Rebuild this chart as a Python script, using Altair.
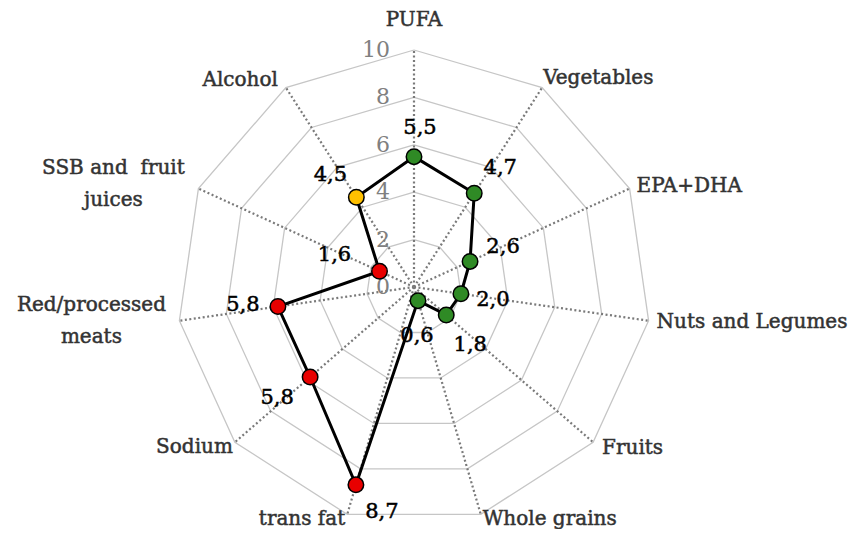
import altair as alt
import pandas as pd
import numpy as np

# ---- data ----
categories = ["PUFA", "Vegetables", "EPA+DHA", "Nuts and Legumes", "Fruits",
              "Whole grains", "trans fat", "Sodium", "Red/processed meats",
              "SSB and  fruit juices", "Alcohol"]
category_lines = [["PUFA"], ["Vegetables"], ["EPA+DHA"], ["Nuts and Legumes"],
                  ["Fruits"], ["Whole grains"], ["trans fat"], ["Sodium"],
                  ["Red/processed", "meats"], ["SSB and\u00a0 fruit", "juices"], ["Alcohol"]]
scores = [5.5, 4.7, 2.6, 2.0, 1.8, 0.6, 8.7, 5.8, 5.8, 1.6, 4.5]
groups = ["good", "good", "good", "good", "good", "good",
          "bad", "bad", "bad", "bad", "moderate"]
ticks = [0, 2, 4, 6, 8, 10]
rmax = 10

# ---- layout / style (pixels) ----
PX = 23.7  # pixels per data unit
cat_label_place = [("center", 0, -30), ("left", 1, -10), ("left", 7, -3),
                   ("left", 8, 1), ("left", 9, 6), ("left", 2, 5),
                   ("right", -2, 5), ("right", -2, 5), ("center", -88, -16),
                   ("center", -85, -21), ("right", -8, -8)]
line_gap = 32.5
val_label_off = [(6, -29), (26, -25), (33, -14), (32, 6), (24, 30), (-1, 35),
                 (26, 27), (-33, 21), (-35, -2), (-45, -16), (-26, -22)]
colors = {"good": "#2f8a25", "bad": "#e80000", "moderate": "#ffc000"}
FONT = "DejaVu Serif"

n = len(categories)
ang = np.arange(n) * 2 * np.pi / n
sx, cy = np.sin(ang), np.cos(ang)

# grid polygons
grid_rows = []
for t in ticks[1:]:
    for k in range(n + 1):
        j = k % n
        grid_rows.append({"ring": t, "o": k, "x": t * sx[j], "y": t * cy[j]})
grid = pd.DataFrame(grid_rows)

spokes = pd.DataFrame({"x": 0.0, "y": 0.0, "x2": rmax * sx, "y2": rmax * cy})

# data polygon
pts = pd.DataFrame({"cat": categories, "score": scores, "grp": groups,
                    "x": np.array(scores) * sx, "y": np.array(scores) * cy,
                    "o": range(n)})
closed = pd.concat([pts, pts.iloc[[0]].assign(o=n)], ignore_index=True)

# value labels
vl = pts.copy()
vl["txt"] = [f"{v:.1f}".replace(".", ",") for v in scores]
vl["lx"] = vl["x"] + [d[0] / PX for d in val_label_off]
vl["ly"] = vl["y"] - np.array([d[1] / PX for d in val_label_off])

# category labels
cl_rows = []
for k in range(n):
    al, dx, dy = cat_label_place[k]
    for i, line in enumerate(category_lines[k]):
        cl_rows.append({"txt": line, "align": al,
                        "x": rmax * sx[k] + dx / PX,
                        "y": rmax * cy[k] - (dy + i * line_gap) / PX})
cl = pd.DataFrame(cl_rows)

# tick labels
tl = pd.DataFrame({"txt": [str(t) for t in ticks], "x": -24 / PX, "y": ticks})

xs = alt.Scale(domain=[-10, 10], nice=False, zero=False)
ys = alt.Scale(domain=[-10, 10], nice=False, zero=False)
X = lambda f: alt.X(f, scale=xs, axis=None)
Y = lambda f: alt.Y(f, scale=ys, axis=None)

grid_layer = alt.Chart(grid).mark_line(color="#c6c6c6", strokeWidth=1.3, clip=False).encode(
    x=X("x:Q"), y=Y("y:Q"), detail="ring:N", order="o:Q")

spoke_layer = alt.Chart(spokes).mark_rule(color="#7a7a7a", strokeWidth=2.2,
                                          strokeDash=[2, 2.5]).encode(
    x=X("x:Q"), y=Y("y:Q"), x2="x2:Q", y2="y2:Q")

tick_layer = alt.Chart(tl).mark_text(align="right", baseline="middle", font=FONT,
                                     fontSize=22, color="#808080").encode(
    x=X("x:Q"), y=Y("y:Q"), text="txt:N")

line_layer = alt.Chart(closed).mark_line(color="black", strokeWidth=3).encode(
    x=X("x:Q"), y=Y("y:Q"), order="o:Q")

point_layer = alt.Chart(pts).mark_point(filled=True, size=240, stroke="black",
                                        strokeWidth=1.5, opacity=1).encode(
    x=X("x:Q"), y=Y("y:Q"),
    fill=alt.Fill("grp:N", scale=alt.Scale(domain=list(colors.keys()),
                                           range=list(colors.values())), legend=None))

val_layer = alt.Chart(vl).mark_text(align="center", baseline="middle", font=FONT,
                                    fontSize=21, color="black", stroke="black",
                                    strokeWidth=0.5).encode(
    x=X("lx:Q"), y=Y("ly:Q"), text="txt:N")

cat_layers = []
for al in ["left", "center", "right"]:
    cat_layers.append(
        alt.Chart(cl[cl["align"] == al]).mark_text(
            align=al, baseline="middle", font=FONT, fontSize=20, color="#333333",
            stroke="#333333", strokeWidth=0.5
        ).encode(x=X("x:Q"), y=Y("y:Q"), text="txt:N"))

chart = alt.layer(grid_layer, spoke_layer, tick_layer, line_layer, point_layer,
                  val_layer, *cat_layers).properties(
    width=474, height=474,
    autosize=alt.AutoSizeParams(type="none"),
    padding={"left": 169, "top": 42, "right": 204, "bottom": 5},
).configure_view(stroke=None)

chart.save("out.html", embed_options={"renderer": "svg", "actions": False})
